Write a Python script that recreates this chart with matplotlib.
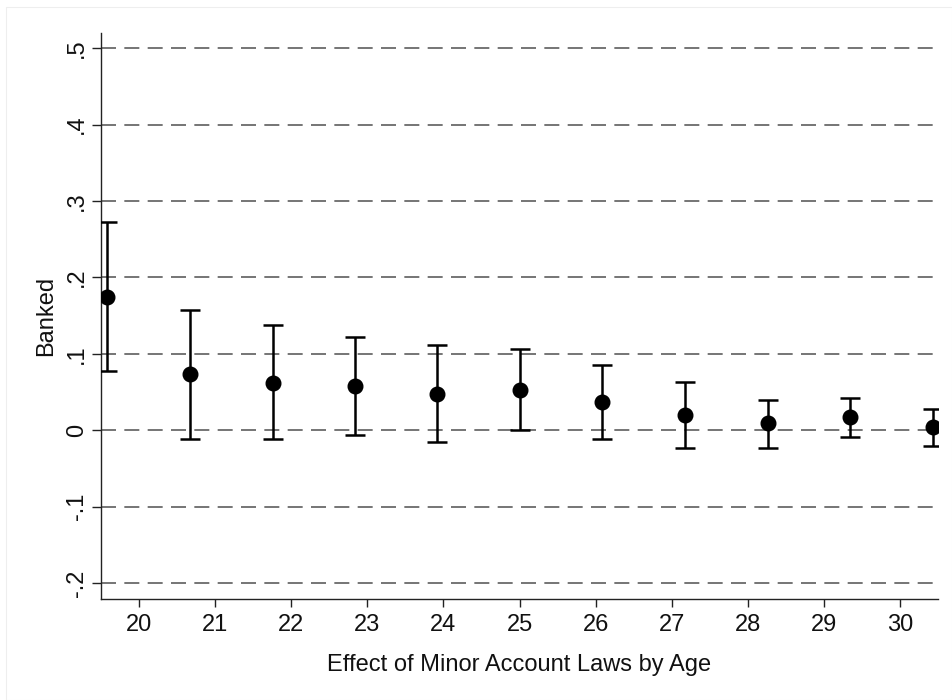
import matplotlib
matplotlib.use("Agg")
import matplotlib.pyplot as plt
from matplotlib.patches import Rectangle

# Coefficient estimates of minor-account laws by age, with 95% CIs
ages = [20, 21, 22, 23, 24, 25, 26, 27, 28, 29, 30]
positions = [19.58, 20.67, 21.76, 22.84, 23.92, 25.01, 26.08, 27.18, 28.27, 29.34, 30.43]
coef = [0.175, 0.073, 0.062, 0.058, 0.048, 0.053, 0.037, 0.020, 0.009, 0.017, 0.004]
ci_low = [0.078, -0.011, -0.012, -0.006, -0.016, 0.000, -0.012, -0.023, -0.023, -0.009, -0.021]
ci_high = [0.272, 0.157, 0.138, 0.122, 0.112, 0.106, 0.085, 0.063, 0.040, 0.042, 0.028]
yticks = [-0.2, -0.1, 0.0, 0.1, 0.2, 0.3, 0.4, 0.5]
ytick_labels = ["-.2", "-.1", "0", ".1", ".2", ".3", ".4", ".5"]

plt.rcParams['font.family'] = ['Liberation Sans', 'DejaVu Sans']

fig = plt.figure(figsize=(9.53, 7.0), dpi=100)
fig.patch.set_facecolor("white")
# faint outer frame
fig.patches.append(Rectangle((6 / 953, 0), 946 / 953, 693 / 700, transform=fig.transFigure,
                             fill=False, edgecolor="#eeeeee", linewidth=0.8))

ax = fig.add_axes([101 / 953, 1 - 599 / 700, 837 / 953, 566 / 700])

for y in yticks:
    ax.axhline(y, color="#5e5e5e", linewidth=1.2, dashes=(9, 5), zorder=1)

lower_err = [c - lo for c, lo in zip(coef, ci_low)]
upper_err = [hi - c for c, hi in zip(coef, ci_high)]
ax.errorbar(positions, coef, yerr=[lower_err, upper_err], fmt="o", color="black",
            markersize=10.5, elinewidth=1.8, capsize=7.5, capthick=1.8, zorder=3)

ax.set_xlim(19.5, 30.5)
ax.set_ylim(-0.221, 0.52)
ax.set_xticks(ages)
ax.set_xticklabels([str(a) for a in ages])
ax.set_yticks(yticks)
ax.set_yticklabels(ytick_labels, rotation=90, va="center")

for side in ("top", "right"):
    ax.spines[side].set_visible(False)
for side in ("left", "bottom"):
    ax.spines[side].set_linewidth(1.0)
    ax.spines[side].set_color("#222222")

ax.tick_params(axis="both", direction="out", width=1.0, color="#222222",
               labelsize=17, colors="#111111")
ax.tick_params(axis="x", length=5.5, pad=5)
ax.tick_params(axis="y", length=6.5, pad=3)

ax.set_xlabel("Effect of Minor Account Laws by Age", fontsize=17, color="#111111", labelpad=13)
ax.set_ylabel("Banked", fontsize=17, color="#111111", labelpad=6)

fig.savefig("out.png", dpi=100, facecolor="white")
